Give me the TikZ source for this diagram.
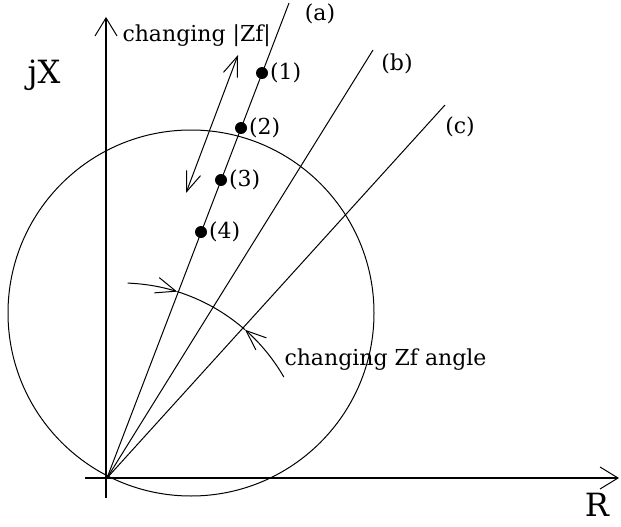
\documentclass[tikz,border=0pt]{standalone}
\usepackage{fontspec}
\setmainfont{DejaVu Serif}
\usetikzlibrary{arrows.meta}
\begin{document}
\begin{tikzpicture}[x=1pt,y=1pt, line width=1pt,
  lbl/.style={inner sep=0pt, font=\fontsize{22}{26}\selectfont},
  big/.style={inner sep=0pt, font=\fontsize{32}{38}\selectfont},
  dot/.style={circle, fill, inner sep=0pt, minimum size=12pt},
  axis/.style={line width=1.3pt, -{Straight Barb[length=18pt,width=22pt,line width=1pt]}},
  dbl/.style={{Straight Barb[length=20pt,width=15pt]}-{Straight Barb[length=20pt,width=15pt]}},
  arcarrow/.style={-{Straight Barb[length=20pt,width=16pt]}},
  ]
\useasboundingbox (0,0) rectangle (621,-527);
% axes
\coordinate (O) at (107,-478);
\coordinate (ytop) at (106,-17);
\coordinate (ybot) at (106,-498);
\coordinate (xl) at (85,-478);
\coordinate (xr) at (619,-478);
\draw[axis] (ybot) -- (ytop);
\draw[axis] (xl) -- (xr);
\node[big, anchor=base] (jx) at (44,-83) {jX};
\node[big, anchor=base] (R) at (597,-516) {R};
% circle
\node[circle, draw, minimum size=366pt, inner sep=0pt] (C) at (191,-313) {};
% lines
\coordinate (a) at (289,-3);
\coordinate (b) at (373,-50);
\coordinate (c) at (445,-105);
\draw (O) -- (a);
\draw (O) -- (b);
\draw (O) -- (c);
\node[lbl] (la) at (320,-14) {(a)};
\node[lbl] (lb) at (397,-64) {(b)};
\node[lbl] (lc) at (460,-127) {(c)};
% points
\node[dot] (p1) at (262,-73) {};
\node[dot] (p2) at (241,-128) {};
\node[dot] (p3) at (221,-180) {};
\node[dot] (p4) at (201,-232) {};
\node[lbl, anchor=west] (l1) at ([xshift=1pt]p1.east) {(1)};
\node[lbl, anchor=west] (l2) at ([xshift=1pt]p2.east) {(2)};
\node[lbl, anchor=west] (l3) at ([xshift=1pt]p3.east) {(3)};
\node[lbl, anchor=west] (l4) at ([xshift=1pt]p4.east) {(4)};
% changing |Zf|
\coordinate (da) at (186,-193);
\coordinate (db) at (238,-55);
\draw[dbl] (da) -- (db);
\node[lbl, anchor=base west] (t1) at (122,-42) {changing |Zf|};
% changing angle arc
\coordinate (K) at (121,-471);
\draw[arcarrow] ([shift={(88:188)}]K) arc[start angle=88, end angle=72.6, radius=188pt];
\draw ([shift={(72.6:188)}]K) arc[start angle=72.6, end angle=48.7, radius=188pt];
\draw[arcarrow] ([shift={(30:188)}]K) arc[start angle=30, end angle=48.7, radius=188pt];
\node[lbl, anchor=base west] (t2) at (284,-365) {changing Zf angle};
\end{tikzpicture}
\end{document}
